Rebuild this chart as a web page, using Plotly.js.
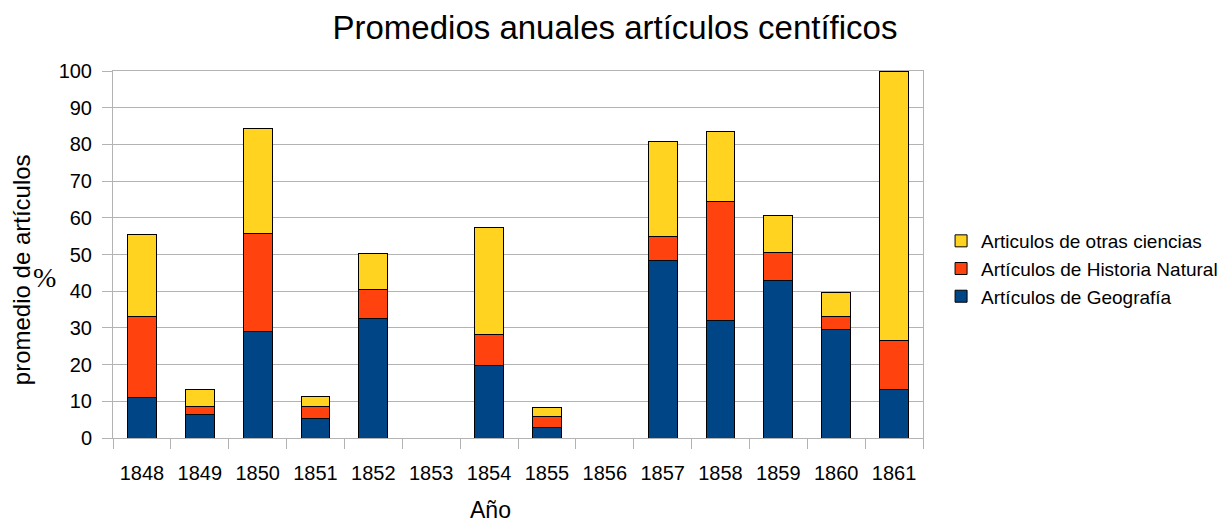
<!DOCTYPE html>
<html>
<head>
<meta charset="utf-8">
<script src="https://cdn.plot.ly/plotly-3.0.1.min.js"></script>
<style>html,body{margin:0;padding:0;background:#fff;}#chart{width:1219px;height:523px;}</style>
</head>
<body>
<div id="chart"></div>
<script>
const years = ['1848','1849','1850','1851','1852','1853','1854','1855','1856','1857','1858','1859','1860','1861'];
const geografia = [11.1, 6.3, 28.9, 5.4, 32.5, null, 19.8, 2.9, null, 48.4, 32.1, 42.8, 29.7, 13.3];
const historiaNatural = [22.1, 2.2, 26.9, 3.2, 8.1, null, 8.5, 2.9, null, 6.4, 32.3, 7.8, 3.4, 13.3];
const otrasCiencias = [22.3, 4.7, 28.4, 2.6, 9.8, null, 29.1, 2.6, null, 25.9, 19.0, 10.1, 6.6, 73.4];

const seriesNames = ['Artículos de Geografía', 'Artículos de Historia Natural', 'Articulos de otras ciencias'];
const seriesColors = ['#004586', '#ff420e', '#ffd320'];
const seriesValues = [geografia, historiaNatural, otrasCiencias];

const traces = seriesValues.map((vals, i) => ({
  type: 'bar',
  x: years,
  y: vals,
  name: seriesNames[i],
  marker: {color: seriesColors[i], line: {color: '#000000', width: 1}}
}));

const font = 'Liberation Sans, Arial, sans-serif';
const layout = {
  width: 1219, height: 523,
  margin: {l: 113, r: 296, t: 71, b: 85},
  paper_bgcolor: '#ffffff', plot_bgcolor: '#ffffff',
  barmode: 'stack',
  bargap: 0.5,
  font: {family: font, color: '#000000', size: 20},
  title: {text: 'Promedios anuales artículos centíficos', font: {family: font, size: 33, color: '#000'},
          x: 0.5045, xref: 'container', xanchor: 'center', y: 0.948, yref: 'container', yanchor: 'middle'},
  xaxis: {
    type: 'category', tickson: 'boundaries', ticks: 'outside', ticklen: 10, tickcolor: '#b3b3b3', tickwidth: 1,
    showline: true, linecolor: '#b3b3b3', linewidth: 1, mirror: true, showgrid: false,
    tickfont: {family: font, size: 20, color: '#000'}, ticklabelstandoff: 17
  },
  yaxis: {
    range: [0, 100], dtick: 10, ticks: 'outside', ticklen: 10, tickcolor: '#b3b3b3', tickwidth: 1,
    showline: true, linecolor: '#b3b3b3', linewidth: 1, mirror: true,
    showgrid: true, gridcolor: '#b3b3b3', gridwidth: 1, zeroline: false,
    tickfont: {family: font, size: 20, color: '#000'}, ticklabelstandoff: 6
  },
  legend: {
    xref: 'container', yref: 'container',
    x: 0.772, xanchor: 'left', y: 0.4857, yanchor: 'middle', traceorder: 'reversed',
    font: {family: font, size: 19, color: '#000'}, bgcolor: 'rgba(0,0,0,0)'
  },
  showlegend: true,
  annotations: [
    {text: 'promedio de artículos', textangle: -90, xref: 'paper', yref: 'paper', x: -0.112, y: 0.458,
     xanchor: 'center', yanchor: 'middle', showarrow: false, font: {family: font, size: 24, color: '#000'}},
    {text: '%', xref: 'paper', yref: 'paper', x: -0.0842, y: 0.436, xanchor: 'center', yanchor: 'middle',
     showarrow: false, font: {family: 'Liberation Serif, Times New Roman, serif', size: 28, color: '#000'}},
    {text: 'Año', xref: 'paper', yref: 'paper', x: 0.4658, y: -0.197, xanchor: 'center', yanchor: 'middle',
     showarrow: false, font: {family: font, size: 23, color: '#000'}}
  ]
};

Plotly.newPlot('chart', traces, layout, {displayModeBar: false, staticPlot: true});
</script>
</body>
</html>
